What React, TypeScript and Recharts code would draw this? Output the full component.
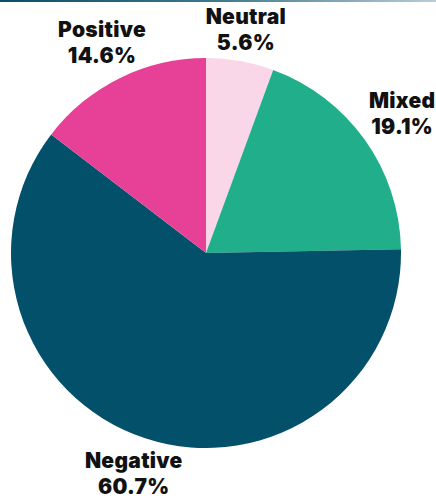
import React from 'react';
import { PieChart, Pie, Cell } from 'recharts';

const categories = ['Neutral', 'Mixed', 'Negative', 'Positive'];
const shares = [5.6, 19.1, 60.7, 14.6];
const colors = ['#f9d6e8', '#21ae8a', '#03506b', '#e64196'];

const data = categories.map((name, i) => ({ name, value: shares[i] }));

const RADIAN = Math.PI / 180;

const renderLabel = (props: any) => {
  const { cx, cy, midAngle, outerRadius, index } = props;
  const cos = Math.cos(-midAngle * RADIAN);
  const sin = Math.sin(-midAngle * RADIAN);
  // push the label box out so its nearest edge sits just outside the rim
  const d = outerRadius + 6 + 34 * Math.abs(cos) + 21 * Math.abs(sin);
  const x = cx + d * cos;
  const y = cy + d * sin;
  return (
    <text
      x={x}
      y={y}
      textAnchor="middle"
      fill="#111"
      style={{ fontFamily: 'Inter', fontWeight: 900, fontSize: 21, letterSpacing: 0.3 }}
    >
      <tspan x={x} y={y - 5}>{categories[index]}</tspan>
      <tspan x={x} y={y + 21}>{shares[index].toFixed(1)}%</tspan>
    </text>
  );
};

const App: React.FC = () => {
  return (
    <div style={{ position: 'absolute', left: 0, top: 0, width: 436, height: 502, background: '#fff' }}>
      <div
        style={{
          position: 'absolute',
          left: 0,
          top: 0,
          width: 436,
          height: 2,
          background: 'linear-gradient(90deg, #0a4d68 0%, #3f7890 50%, #b9ccd5 100%)',
        }}
      />
      <PieChart width={436} height={502} margin={{ top: 0, right: 0, bottom: 0, left: 0 }}>
        <Pie
          data={data}
          dataKey="value"
          nameKey="name"
          cx={206}
          cy={253}
          outerRadius={195}
          startAngle={90}
          endAngle={-270}
          stroke="none"
          label={renderLabel}
          labelLine={false}
          isAnimationActive={false}
        >
          {data.map((entry, i) => (
            <Cell key={entry.name} fill={colors[i]} />
          ))}
        </Pie>
      </PieChart>
    </div>
  );
};

export default App;
